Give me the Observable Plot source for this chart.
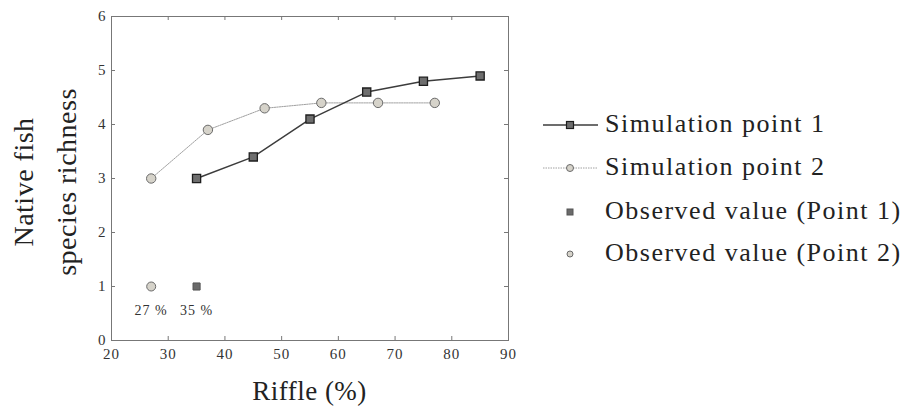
<!DOCTYPE html>
<html>
<head>
<meta charset="utf-8">
<script src="https://cdn.jsdelivr.net/npm/d3@7"></script>
<script src="https://cdn.jsdelivr.net/npm/@observablehq/plot@0.6"></script>
<style>
  html, body { margin: 0; padding: 0; background: #fff; }
  #wrap { position: relative; width: 909px; height: 407px; font-family: 'Liberation Serif'; }
  #overlay { position: absolute; left: 0; top: 0; pointer-events: none; }
  .lab { position: absolute; left: 0; top: 0; white-space: nowrap; line-height: 1; color: #222;
         font-family: 'Liberation Serif'; transform-origin: 0 0; }
  svg text { font-family: 'Liberation Serif'; }
</style>
</head>
<body>
<div id="wrap"></div>
<script>
// ---- data ----
const xTicks = [20, 30, 40, 50, 60, 70, 80, 90];
const yTicks = [0, 1, 2, 3, 4, 5, 6];

const sim1X = [35, 45, 55, 65, 75, 85];
const sim1Y = [3.0, 3.4, 4.1, 4.6, 4.8, 4.9];

const sim2X = [27, 37, 47, 57, 67, 77];
const sim2Y = [3.0, 3.9, 4.3, 4.4, 4.4, 4.4];

const obs1X = [35];
const obs1Y = [1];
const obs1Label = ["35 %"];
const obs2X = [27];
const obs2Y = [1];
const obs2Label = ["27 %"];

const seriesNames = ["Simulation point 1", "Simulation point 2", "Observed value (Point 1)", "Observed value (Point 2)"];
const xLabel = "Riffle (%)";
const yLabelLines = ["Native fish", "species richness"];

// ---- tables ----
const sim1 = sim1X.map((x, i) => ({x, y: sim1Y[i]}));
const sim2 = sim2X.map((x, i) => ({x, y: sim2Y[i]}));
const obs1 = obs1X.map((x, i) => ({x, y: obs1Y[i], label: obs1Label[i]}));
const obs2 = obs2X.map((x, i) => ({x, y: obs2Y[i], label: obs2Label[i]}));

// ---- styles ----
const FONT = "Liberation Serif";
const C = {
  frame: "#777",
  sq: "#6e6e6e", sqStroke: "#1e1e1e",
  circ: "#d6d3ca", circStroke: "#6a6a6a",
  line1: "#3c3c3c", line2: "#a0a0a0",
  text: "#222"
};

const W = 909, H = 407;
const mL = 111, mR = 401, mT = 16, mB = 67;
const pw = W - mL - mR, ph = H - mT - mB;
const tick = 4;

const plot = Plot.plot({
  width: W, height: H,
  marginLeft: mL, marginRight: mR, marginTop: mT, marginBottom: mB,
  style: {fontFamily: FONT, fontSize: "15px", color: "#333", background: "transparent", letterSpacing: "1px"},
  x: {domain: [20, 90]},
  y: {domain: [0, 6]},
  marks: [
    Plot.frame({stroke: C.frame, strokeWidth: 1}),
    Plot.ruleX(xTicks.slice(1, -1), {stroke: C.frame, insetTop: ph - tick}),
    Plot.ruleX(xTicks.slice(1, -1), {stroke: C.frame, insetBottom: ph - tick}),
    Plot.ruleY(yTicks.slice(1, -1), {stroke: C.frame, insetRight: pw - tick}),
    Plot.ruleY(yTicks.slice(1, -1), {stroke: C.frame, insetLeft: pw - tick}),
    Plot.axisX({ticks: xTicks, tickSize: 0, tickPadding: 8, label: null, tickFormat: d => d, fontFamily: FONT}),
    Plot.axisY({ticks: yTicks, tickSize: 0, tickPadding: 5, label: null, tickFormat: d => d, fontFamily: FONT}),
    Plot.line(sim2, {x: "x", y: "y", stroke: C.line2, strokeWidth: 1, strokeDasharray: "1.5,1"}),
    Plot.line(sim1, {x: "x", y: "y", stroke: C.line1, strokeWidth: 1.5}),
    Plot.dot(sim2, {x: "x", y: "y", symbol: "circle", r: 4.7, fill: C.circ, stroke: C.circStroke, strokeWidth: 1}),
    Plot.dot(sim1, {x: "x", y: "y", symbol: "square", r: 4.6, fill: C.sq, stroke: C.sqStroke, strokeWidth: 1.3}),
    Plot.dot(obs2, {x: "x", y: "y", symbol: "circle", r: 4.5, fill: C.circ, stroke: C.circStroke, strokeWidth: 1}),
    Plot.dot(obs1, {x: "x", y: "y", symbol: "square", r: 4.0, fill: "#6a6a6a", stroke: "#555", strokeWidth: 1}),
    Plot.text(obs2, {x: "x", y: "y", text: "label", dy: 24, fontSize: 14, fontFamily: FONT, fill: "#333"}),
    Plot.text(obs1, {x: "x", y: "y", text: "label", dy: 24, fontSize: 14, fontFamily: FONT, fill: "#333"})
  ]
});

const wrap = document.getElementById("wrap");
wrap.appendChild(plot);

// ---- overlay: legend swatches ----
const svg = d3.select(wrap).append("svg")
  .attr("id", "overlay").attr("width", W).attr("height", H);

const legY = [125, 168, 212, 254];
const lx0 = 543, lx1 = 598, mx = 570, tx = 605;
seriesNames.forEach((name, i) => {
  const g = svg.append("g").attr("transform", `translate(0,${legY[i]})`);
  if (i === 0) {
    g.append("line").attr("x1", lx0).attr("x2", lx1).attr("stroke", C.line1).attr("stroke-width", 1.3);
    g.append("rect").attr("x", mx - 3.5).attr("y", -3.5).attr("width", 7).attr("height", 7)
      .attr("fill", C.sq).attr("stroke", C.sqStroke).attr("stroke-width", 1.2);
  } else if (i === 1) {
    g.append("line").attr("x1", lx0).attr("x2", lx1).attr("stroke", C.line2).attr("stroke-width", 1).attr("stroke-dasharray", "1.5,1");
    g.append("circle").attr("cx", mx).attr("r", 3.5).attr("fill", C.circ).attr("stroke", C.circStroke);
  } else if (i === 2) {
    g.append("rect").attr("x", mx - 3).attr("y", -3).attr("width", 6).attr("height", 6)
      .attr("fill", "#6a6a6a").attr("stroke", "#555");
  } else {
    g.append("circle").attr("cx", mx).attr("r", 3).attr("fill", C.circ).attr("stroke", C.circStroke);
  }
});

// ---- HTML text labels (baseline-positioned) ----
function label(text, size, tf, spacing) {
  const d = document.createElement("div");
  d.className = "lab";
  d.textContent = text;
  d.style.fontSize = size + "px";
  d.style.letterSpacing = spacing + "px";
  d.style.transform = tf;
  wrap.appendChild(d);
  return d;
}
const asc = s => s * (0.891 - (1.107 - 1) / 2);   // baseline offset with line-height 1

seriesNames.forEach((name, i) => {
  label(name, 26, `translate(${tx}px, ${legY[i] + 8 - asc(26)}px)`, 1.5);
});

label(xLabel, 27, `translate(${mL + pw / 2}px, 401px) translate(-50%, ${-asc(27)}px)`, 0.5);

const yc = mT + ph / 2 + 4;
[33, 76].forEach((bx, i) => {
  label(yLabelLines[i], 28, `translate(${bx}px, ${yc}px) rotate(-90deg) translate(-50%, ${-asc(28)}px)`, 0.5);
});
</script>
</body>
</html>
